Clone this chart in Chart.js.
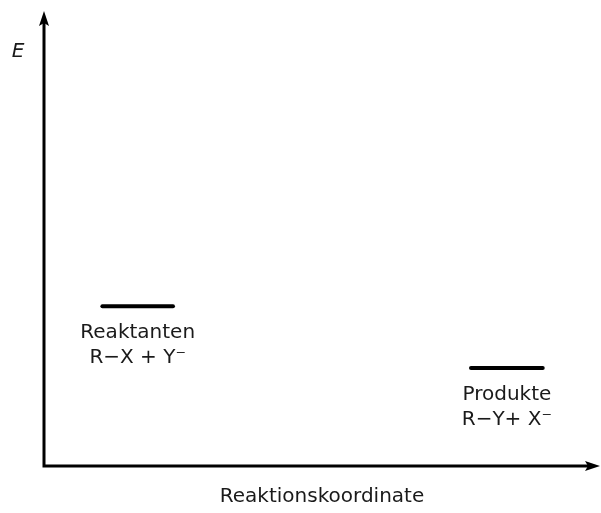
<!DOCTYPE html>
<html>
<head>
<meta charset="utf-8">
<script src="https://cdn.jsdelivr.net/npm/chart.js@4"></script>
<style>
  html, body { margin: 0; padding: 0; background: #fff; }
  #wrap { width: 601px; height: 513px; }
</style>
</head>
<body>
<div id="wrap"><canvas id="energy"></canvas></div>
<script>
// Energy levels (reaction coordinate on x, energy on y)
const levelNames = ['Reaktanten', 'Produkte'];
const levelFormulas = ['R\u2212X + Y\u207B', 'R\u2212Y+ X\u207B'];
const levelEnergies = [3.52, 2.16];
const levelStart = [1.05, 7.68];
const levelEnd = [2.32, 8.97];

const xTitle = 'Reaktionskoordinate';
const yTitle = 'E';

const FONT = '"DejaVu Sans", sans-serif';

// Build one dataset (a short horizontal segment) for every level
const datasets = levelNames.map(function (name, i) {
  return {
    label: name,
    data: [
      { x: levelStart[i], y: levelEnergies[i] },
      { x: levelEnd[i], y: levelEnergies[i] }
    ],
    borderColor: '#000',
    borderWidth: 4,
    borderCapStyle: 'round',
    pointRadius: 0,
    fill: false
  };
});

// Draw the two axes with arrow heads and the labels
const diagramPlugin = {
  id: 'diagram',
  afterDatasetsDraw(chart) {
    const ctx = chart.ctx;
    const area = chart.chartArea;
    const xs = chart.scales.x;
    const ys = chart.scales.y;
    ctx.save();

    // axes
    ctx.strokeStyle = '#000';
    ctx.fillStyle = '#000';
    ctx.lineWidth = 3;
    ctx.beginPath();
    ctx.moveTo(area.left, area.top + 8);
    ctx.lineTo(area.left, area.bottom);
    ctx.lineTo(area.right - 8, area.bottom);
    ctx.stroke();

    // arrow heads
    ctx.beginPath();
    ctx.moveTo(area.left, area.top - 1);
    ctx.lineTo(area.left - 5, area.top + 14);
    ctx.lineTo(area.left, area.top + 11);
    ctx.lineTo(area.left + 5, area.top + 14);
    ctx.closePath();
    ctx.fill();
    ctx.beginPath();
    ctx.moveTo(area.right, area.bottom);
    ctx.lineTo(area.right - 15, area.bottom - 5);
    ctx.lineTo(area.right - 12, area.bottom);
    ctx.lineTo(area.right - 15, area.bottom + 5);
    ctx.closePath();
    ctx.fill();

    // level labels
    ctx.fillStyle = '#1a1a1a';
    ctx.textAlign = 'center';
    ctx.textBaseline = 'middle';
    ctx.font = '20px ' + FONT;
    levelNames.forEach(function (name, i) {
      const cx = xs.getPixelForValue((levelStart[i] + levelEnd[i]) / 2);
      const py = ys.getPixelForValue(levelEnergies[i]);
      ctx.fillText(name, cx, py + 27);
      ctx.fillText(levelFormulas[i], cx, py + 52);
    });

    // axis titles
    ctx.fillText(xTitle, (area.left + area.right) / 2, area.bottom + 31);
    ctx.font = 'italic 20px ' + FONT;
    ctx.fillText(yTitle, 18, 52);

    ctx.restore();
  }
};

new Chart(document.getElementById('energy').getContext('2d'), {
  type: 'line',
  data: { datasets: datasets },
  options: {
    responsive: true,
    maintainAspectRatio: false,
    animation: false,
    layout: { padding: { left: 44, right: 1, top: 12, bottom: 47 } },
    plugins: {
      legend: { display: false },
      tooltip: { enabled: false }
    },
    scales: {
      x: { type: 'linear', min: 0, max: 10, display: false },
      y: { type: 'linear', min: 0, max: 10, display: false }
    }
  },
  plugins: [diagramPlugin]
});
</script>
</body>
</html>
